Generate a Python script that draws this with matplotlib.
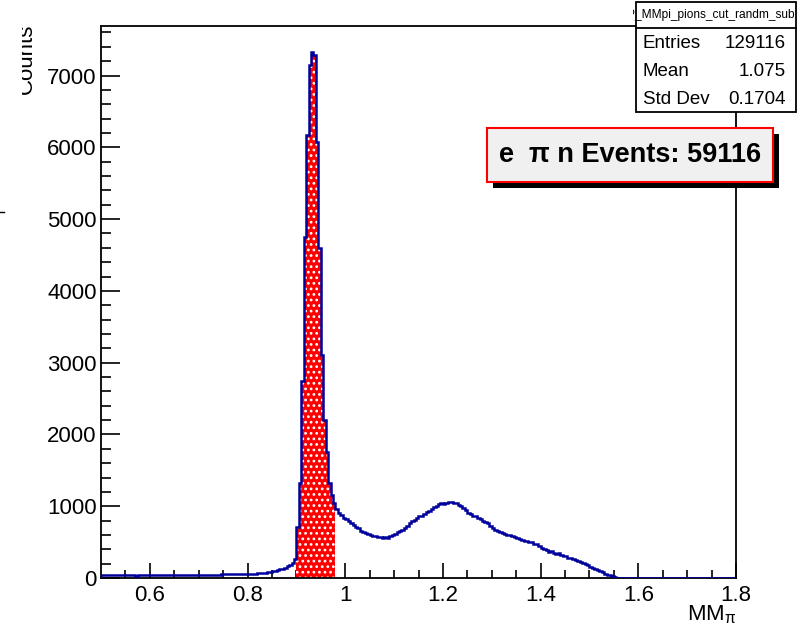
import numpy as np
import matplotlib
matplotlib.use("Agg")
import matplotlib.pyplot as plt
from matplotlib.patches import Rectangle
from matplotlib.lines import Line2D
from matplotlib.transforms import Bbox

plt.rcParams['font.family'] = ['Liberation Sans', 'DejaVu Sans']
plt.rcParams['mathtext.default'] = 'regular'
plt.rcParams['hatch.linewidth'] = 1.2

# histogram of MM_pi, 0.005 wide bins starting at 0.5
x_lo = 0.5
bin_w = 0.005
counts = [
    45, 42, 40, 38, 41, 39, 37, 40, 38, 36,
    37, 35, 38, 36, 34, 37, 35, 38, 36, 37,
    36, 38, 35, 37, 39, 36, 38, 40, 37, 39,
    38, 40, 41, 39, 42, 40, 43, 41, 44, 42,
    43, 45, 44, 46, 45, 47, 46, 48, 47, 49,
    50, 52, 51, 53, 52, 54, 53, 55, 54, 55,
    56, 57, 59, 61, 64, 67, 71, 76, 82, 88,
    95, 103, 112, 121, 132, 145, 162, 181, 210, 260,
    714, 1322, 2740, 4750, 6165, 7153, 7324, 7290, 6072, 4600,
    3103, 2199, 1758, 1322, 1150, 1040, 960, 905, 880, 840,
    815, 790, 770, 740, 705, 690, 660, 640, 625, 610,
    600, 585, 590, 575, 565, 560, 570, 560, 585, 600,
    610, 640, 660, 670, 700, 720, 760, 790, 810, 830,
    860, 870, 890, 920, 940, 960, 990, 1010, 1030, 1040,
    1035, 1050, 1060, 1055, 1045, 1050, 1020, 1000, 970, 950,
    910, 890, 870, 860, 830, 820, 800, 785, 760, 720,
    690, 670, 650, 640, 620, 610, 600, 595, 580, 570,
    560, 540, 530, 520, 510, 505, 500, 480, 470, 445,
    420, 400, 390, 365, 370, 350, 340, 345, 320, 310,
    300, 285, 280, 265, 250, 240, 225, 210, 200, 180,
    160, 140, 125, 110, 92, 78, 62, 48, 35, 22,
    12, 5, 2, 0, 0, 0, 0, 0, 0, 0,
    0, 0, 0, 0, 0, 0, 0, 0, 0, 0,
    0, 0, 0, 0, 0, 0, 0, 0, 0, 0,
    0, 0, 0, 0, 0, 0, 0, 0, 0, 0,
    0, 0, 0, 0, 0, 0, 0, 0, 0, 0,
]
# selected (red) window
sel_lo, sel_hi = 0.90, 0.98

x_ticks = [0.6, 0.8, 1.0, 1.2, 1.4, 1.6, 1.8]
x_ticklabels = ["0.6", "0.8", "1", "1.2", "1.4", "1.6", "1.8"]
y_ticks = [0, 1000, 2000, 3000, 4000, 5000, 6000, 7000]

stats_title = "P_MMpi_pions_cut_randm_sub"
stats_rows = [("Entries", "129116"), ("Mean", "1.075"), ("Std Dev", "0.1704")]
n_events = 59116

counts = np.array(counts, dtype=float)
edges = x_lo + bin_w * np.arange(len(counts) + 1)

W, H = 810, 629
fig = plt.figure(figsize=(W / 100, H / 100), dpi=100)
ax = fig.add_axes([101 / W, 1 - 578 / H, (736 - 101) / W, (578 - 26) / H])

# red hatched selection
i0 = int(round((sel_lo - x_lo) / bin_w))
i1 = int(round((sel_hi - x_lo) / bin_w))
ax.stairs(counts[i0:i1], edges[i0:i1 + 1], fill=True, facecolor='#ff0000',
          edgecolor='white', hatch='...', linewidth=0, zorder=2)
ax.stairs(counts, edges, color='#00009c', linewidth=1.8, zorder=3)

ax.set_xlim(0.5, 1.8)
ax.set_ylim(0, 1.05 * counts.max())
ax.set_xticks(x_ticks)
ax.set_xticklabels(x_ticklabels)
ax.set_xticks(np.arange(0.55, 1.8, 0.05), minor=True)
ax.set_yticks(y_ticks)
ax.set_yticks(np.arange(0, 7700, 200), minor=True)
ax.tick_params(axis='both', which='both', direction='in', top=False, right=False,
               labelsize=16, color='black')
ax.tick_params(axis='x', which='major', length=11, width=1.2, pad=5)
ax.tick_params(axis='x', which='minor', length=5.5, width=1.2)
ax.tick_params(axis='y', which='major', length=14, width=1.2, pad=3)
ax.tick_params(axis='y', which='minor', length=7, width=1.2)
for s in ax.spines.values():
    s.set_linewidth(1.3)

# axis titles
fig.text(736 / W, 1 - 626 / H, r"MM$_{\pi}$", ha='right', va='bottom', fontsize=16)
yl = fig.text(37 / W, 1 - 24 / H, "Counts", rotation=90, ha='right', va='top',
              fontsize=16)
yl.set_clip_box(Bbox.from_extents(22, 0, W, H))
yl.set_clip_on(True)
fig.add_artist(Line2D([0, 4 / W], [1 - 212 / H] * 2, color='black', lw=1))

# stats box
sx0, sx1, sy0, sy1 = 636, 796, 2, 112
box = Rectangle((sx0 / W, 1 - sy1 / H), (sx1 - sx0) / W, (sy1 - sy0) / H,
                transform=fig.transFigure, facecolor='white', edgecolor='black',
                lw=1.3, zorder=5)
fig.add_artist(box)
fig.add_artist(Line2D([sx0 / W, sx1 / W], [1 - 28 / H] * 2, color='black', lw=1.3,
                      zorder=6))
tt = fig.text((sx1 - 1) / W, 1 - 15 / H, stats_title, ha='right', va='center',
              fontsize=8.6, zorder=7)
tt.set_clip_box(Bbox.from_extents(sx0 - 3, 0, sx1, H))
tt.set_clip_on(True)
for j, (name, val) in enumerate(stats_rows):
    yy = 1 - (44 + 27.5 * j) / H
    fig.text((sx0 + 7) / W, yy, name, ha='left', va='center', fontsize=13.5, zorder=6)
    fig.text((sx1 - 10) / W, yy, val, ha='right', va='center', fontsize=13.5, zorder=6)

# events box with shadow
bx0, bx1, by0, by1 = 487, 773, 128, 182
off = 6
fig.add_artist(Rectangle(((bx0 + off) / W, 1 - (by1 + off) / H), (bx1 - bx0) / W,
                         (by1 - by0) / H, transform=fig.transFigure,
                         facecolor='black', edgecolor='none', zorder=5))
fig.add_artist(Rectangle((bx0 / W, 1 - by1 / H), (bx1 - bx0) / W, (by1 - by0) / H,
                         transform=fig.transFigure, facecolor='#f0f0f0',
                         edgecolor='#ff0000', lw=1.5, zorder=6))
fig.text((bx0 + bx1) / 2 / W, 1 - (by0 + by1) / 2 / H,
         "e  \u03c0 n Events: %d" % n_events, ha='center', va='center',
         fontsize=19.5, fontweight='bold', zorder=7)

fig.savefig("out.png", dpi=100)
